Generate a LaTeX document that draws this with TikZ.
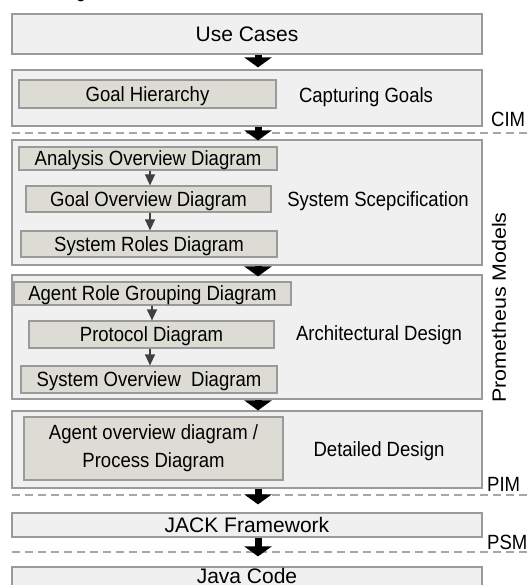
\documentclass[tikz,border=0pt]{standalone}
\usepackage{fontspec}
\setmainfont{Liberation Sans}[FakeStretch=0.9]
\newfontfamily\uprightfam{Liberation Sans}
\usetikzlibrary{arrows.meta}
\definecolor{outerfill}{HTML}{F0F0F0}
\definecolor{innerfill}{HTML}{DDDCD4}
\definecolor{edge}{HTML}{9A9A9A}
\definecolor{dashgray}{HTML}{A8A8A0}
\definecolor{smallarrow}{HTML}{404040}
\newcommand{\midfont}{\fontsize{20.6}{23}\selectfont}
\newcommand{\bigfont}{\uprightfam\fontsize{21}{24}\selectfont}
\begin{document}
\begin{tikzpicture}[x=1pt,y=-1pt,
  midline/.style={font=\midfont, text height=14.75pt, text depth=0pt},
  bigline/.style={font=\bigfont, text height=15pt, text depth=0pt},
  outer/.style={draw=edge, fill=outerfill, line width=1.2pt, inner sep=0pt, bigline},
  inner/.style={draw=edge, fill=innerfill, line width=1.2pt, inner sep=0pt, midline},
  label/.style={inner sep=0pt, midline},
  side/.style={label, anchor=west},
  bigarrow/.style={line width=7pt, -{Triangle[width=27pt,length=10pt]}},
  thinarrow/.style={draw=smallarrow, line width=1.2pt,
    -{Triangle[width=10pt,length=11pt]}, fill=smallarrow},
  boundary/.style={draw=dashgray, line width=1.2pt, dash pattern=on 8pt off 5pt}
]
\useasboundingbox (0,0) rectangle (527,585);
\clip (0,0) rectangle (527,585);

% tail of a glyph from the line above
\node[anchor=base, inner sep=0pt, font=\midfont] (tail) at (81,-2) {g};

% phase boundaries
\draw[boundary] (12,133) -- (527,133);
\draw[boundary] (12,495) -- (527,495);
\draw[boundary] (12,552) -- (527,552);

% outer phase boxes
\node[outer, minimum width=470, minimum height=40] (usecases) at (247,34) {Use Cases};
\node[outer, minimum width=470, minimum height=56] (capgoals) at (247,98) {};
\node[outer, minimum width=470, minimum height=125] (sysspec) at (247,202.5) {};
\node[outer, minimum width=470, minimum height=124] (archdes) at (247,337) {};
\node[outer, minimum width=470, minimum height=77] (detdes) at (247,449.5) {};
\node[outer, minimum width=470, minimum height=24] (jack) at (247,525) {JACK Framework};
\node[outer, minimum width=470, minimum height=40] (java) at (247,587) {};
\node[inner sep=0pt, bigline] (javatext) at (247,576) {Java Code};

% inner artefact boxes
\node[inner, minimum width=257, minimum height=28] (goalhier) at (147.5,94) {Goal Hierarchy};
\node[inner, minimum width=258, minimum height=23] (aod) at (148,158.5) {Analysis Overview Diagram};
\node[inner, minimum width=245, minimum height=26] (god) at (148.5,199) {Goal Overview Diagram};
\node[inner, minimum width=256, minimum height=26] (srd) at (149,244) {System Roles Diagram};
\node[inner, minimum width=277, minimum height=23] (argd) at (152.5,293.5) {Agent Role Grouping Diagram};
\node[inner, minimum width=245, minimum height=27] (prot) at (151.5,334.5) {Protocol Diagram};
\node[inner, minimum width=256, minimum height=27] (sod) at (149,379.5) {System Overview\ \ Diagram};
\node[draw=edge, fill=innerfill, line width=1.2pt, inner sep=0pt, font=\midfont,
  minimum width=259, minimum height=63, align=center] (aovd) at (153.5,448.5)
  {Agent overview diagram /\\[5pt]Process Diagram};

% phase names
\node[label] (capname) at (366,95) {Capturing Goals};
\node[label] (specname) at (378,199) {System Scepcification};
\node[label] (archname) at (379,333) {Architectural Design};
\node[label] (detname) at (379,449) {Detailed Design};

% model levels
\node[side] (cim) at (491,119) {CIM};
\node[side] (pim) at (487,484) {PIM};
\node[side] (psm) at (487,542) {PSM};
\node[inner sep=0pt, rotate=90] (prom) at (499,307.5)
  {\scalebox{1}[0.9]{\uprightfam\fontsize{21.4}{24}\selectfont Prometheus Models}};

% flow between phases
\coordinate (ax) at (258,0);
\draw[bigarrow, shorten >=2pt] (usecases.south -| ax) -- (capgoals.north -| ax);
\draw[bigarrow, shorten >=-1pt] (capgoals.south -| ax) -- (sysspec.north -| ax);
\draw[bigarrow, shorten >=-2pt] (sysspec.south -| ax) -- (archdes.north -| ax);
\draw[bigarrow] (archdes.south -| ax) -- (detdes.north -| ax);
\draw[bigarrow, shorten >=8pt] (detdes.south -| ax) -- (jack.north -| ax);
\draw[bigarrow, shorten >=10pt] (jack.south -| ax) -- (java.north -| ax);

% flow inside phases
\coordinate (sx) at (150,0);
\coordinate (tx) at (152,0);
\draw[thinarrow] (aod.south -| sx) -- (god.north -| sx);
\draw[thinarrow] (god.south -| sx) -- (srd.north -| sx);
\draw[thinarrow] (argd.south -| tx) -- (prot.north -| tx);
\draw[thinarrow] (prot.south -| sx) -- (sod.north -| sx);
\end{tikzpicture}
\end{document}
